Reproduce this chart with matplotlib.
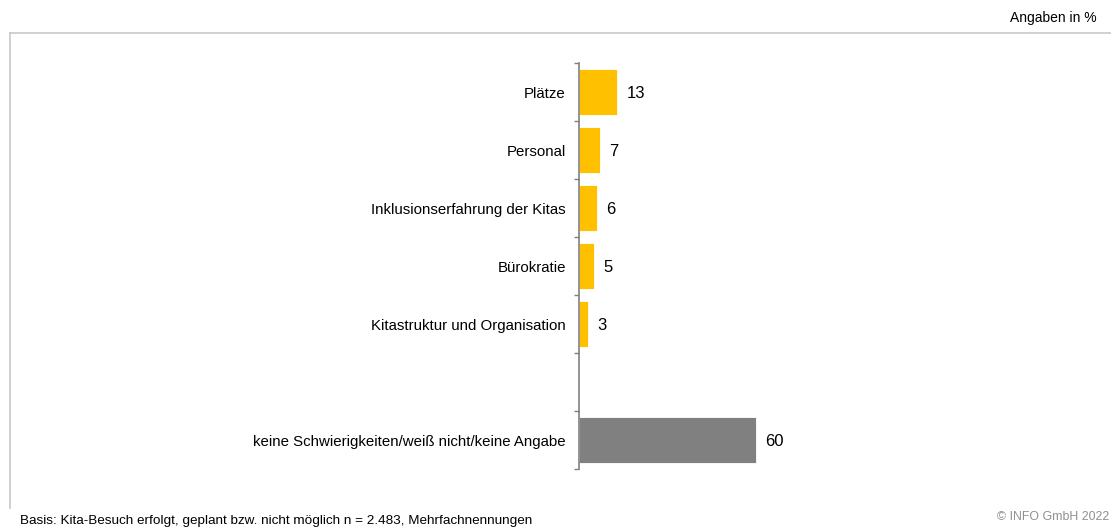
import matplotlib.pyplot as plt
from matplotlib.lines import Line2D

plt.rcParams['font.family'] = ['Liberation Sans', 'DejaVu Sans']

# data
categories = ['Plätze', 'Personal', 'Inklusionserfahrung der Kitas', 'Bürokratie',
              'Kitastruktur und Organisation', '', 'keine Schwierigkeiten/weiß nicht/keine Angabe']
values = [13, 7, 6, 5, 3, None, 60]
colors = ['#FFC000'] * 5 + [None, '#808080']

W, H = 1111, 530
fig = plt.figure(figsize=(W / 100, H / 100), dpi=100)

# light frame (top and left only)
fig.add_artist(Line2D([10 / W, 1], [1 - 33 / H, 1 - 33 / H], color='#C8C8C8', lw=1.2))
fig.add_artist(Line2D([10 / W, 10 / W], [1 - 33 / H, 1 - 508 / H], color='#C8C8C8', lw=1.2))

ax = fig.add_axes([579 / W, 1 - 469 / H, (1100 - 579) / W, (469 - 63) / H])
pos = list(range(len(categories)))
for p, v, c in zip(pos, values, colors):
    if v is None:
        continue
    ax.barh(p, v, height=0.78, color=c, edgecolor='white', linewidth=0.6)
    ax.text(v + 3.3, p + 0.03, str(v), va='center', ha='left', fontsize=12)

ax.set_xlim(0, 177)
ax.set_ylim(6.5, -0.5)
ax.set_xticks([])
ax.set_yticks(pos)
ax.set_yticklabels(categories, fontsize=10.8)
ax.tick_params(axis='y', which='major', length=0, pad=9.5)
ax.set_yticks([p - 0.5 for p in pos] + [6.5], minor=True)
ax.tick_params(axis='y', which='minor', length=3.5, width=1, color='#808080', direction='out')
for s in ['top', 'right', 'bottom']:
    ax.spines[s].set_visible(False)
ax.spines['left'].set_color('#808080')
ax.spines['left'].set_linewidth(1.2)

fig.text(1097 / W, 1 - 18 / H, 'Angaben in %', ha='right', va='center', fontsize=10)
fig.text(20 / W, 1 - 521 / H, 'Basis: Kita-Besuch erfolgt, geplant bzw. nicht möglich n = 2.483, Mehrfachnennungen',
         ha='left', va='center', fontsize=9.7)
fig.text(1109 / W, 1 - 517 / H, '© INFO GmbH 2022', ha='right', va='center', fontsize=8.9, color='#909090')

fig.savefig('out.png', dpi=100)
